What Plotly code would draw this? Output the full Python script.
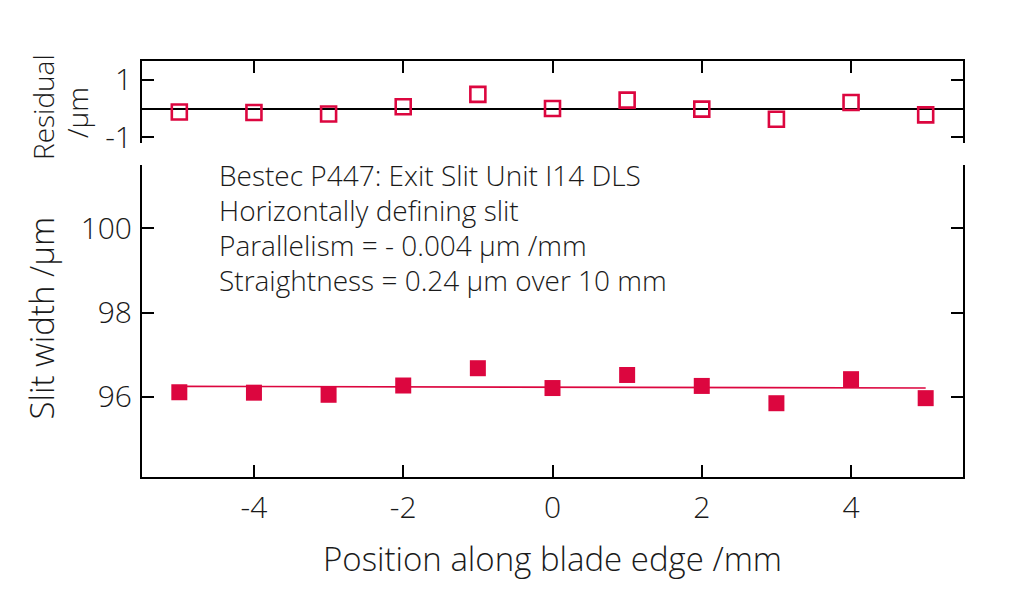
import plotly.graph_objects as go

# ---- data ----
POSITION_MM = [-5, -4, -3, -2, -1, 0, 1, 2, 3, 4, 5]
SLIT_WIDTH_UM = [96.11, 96.10, 96.05, 96.27, 96.68, 96.21, 96.52, 96.26, 95.85, 96.42, 95.97]
RESIDUAL_UM = [-0.12, -0.14, -0.19, 0.06, 0.49, 0.00, 0.29, -0.02, -0.37, 0.21, -0.22]
FIT_X = [-5, 5]
FIT_Y = [96.25, 96.21]

X_TICKS = [-4, -2, 0, 2, 4]
X_TICK_LABELS = ["-4", "-2", "0", "2", "4"]
MAIN_Y_TICKS = [96, 98, 100]
MAIN_Y_TICK_LABELS = ["96", "98", "100"]
RES_Y_TICKS = [-1, 1]
RES_Y_TICK_LABELS = ["-1", "1"]

INFO_LINES = [
    "Bestec P447: Exit Slit Unit I14 DLS",
    "Horizontally defining slit",
    "Parallelism = - 0.004 µm /mm",
    "Straightness = 0.24 µm over 10 mm",
]

# ---- styling ----
RED = "#DC063F"
INK = "#1a1a1a"
FONT = "Open Sans"
W = 300

fig = go.Figure()

fig.add_trace(go.Scatter(
    x=FIT_X, y=FIT_Y, mode="lines",
    line=dict(color=RED, width=1.6),
    xaxis="x", yaxis="y", showlegend=False, hoverinfo="skip",
))
fig.add_trace(go.Scatter(
    x=POSITION_MM, y=SLIT_WIDTH_UM, mode="markers",
    marker=dict(symbol="square", size=16, color=RED, line=dict(width=0)),
    xaxis="x", yaxis="y", showlegend=False,
))
fig.add_trace(go.Scatter(
    x=POSITION_MM, y=RESIDUAL_UM, mode="markers",
    marker=dict(symbol="square-open", size=15, color=RED, line=dict(width=2.6, color=RED)),
    xaxis="x2", yaxis="y2", showlegend=False,
))

axis_common = dict(
    showline=True, linecolor="black", linewidth=2,
    ticks="inside", ticklen=12, tickwidth=2, tickcolor="black",
    showgrid=False, zeroline=False,
    tickfont=dict(family=FONT, size=30, color=INK, weight=W),
)

# page body has an 8px margin, so the figure is 8px smaller than the window
fig.update_layout(
    width=1016, height=581,
    margin=dict(l=134, r=61, t=53, b=112),
    paper_bgcolor="white", plot_bgcolor="white",
    font=dict(family=FONT, color=INK, weight=W),
    xaxis=dict(
        axis_common, domain=[0, 1], range=[-5.5, 5.5], anchor="y",
        tickvals=X_TICKS, ticktext=X_TICK_LABELS, ticklabelstandoff=3,
    ),
    xaxis2=dict(
        axis_common, domain=[0, 1], range=[-5.5, 5.5], anchor="y2", matches="x",
        side="top", tickvals=X_TICKS, showticklabels=False,
    ),
    yaxis=dict(
        axis_common, domain=[0, 0.75], range=[94.1, 101.5], anchor="x",
        mirror="ticks", tickvals=MAIN_Y_TICKS, ticktext=MAIN_Y_TICK_LABELS,
        ticklabelstandoff=2,
    ),
    yaxis2=dict(
        axis_common, domain=[0.802, 1], range=[-1.21, 1.65], anchor="x2",
        mirror="ticks", tickvals=RES_Y_TICKS, ticktext=RES_Y_TICK_LABELS,
        ticklabelstandoff=2,
        zeroline=True, zerolinecolor="black", zerolinewidth=1.6,
    ),
)

annotations = [
    dict(text="Slit width /µm", x=-0.1218, y=0.381, xref="paper", yref="paper",
         textangle=-90, xanchor="center", yanchor="middle", showarrow=False,
         font=dict(family=FONT, size=33, color=INK, weight=W)),
    dict(text="Residual", x=(43 - 142) / 821, y=(477 - 107) / 416, xref="paper", yref="paper",
         textangle=-90, xanchor="center", yanchor="middle", showarrow=False,
         font=dict(family=FONT, size=28, color=INK, weight=W)),
    dict(text="/µm", x=(77 - 142) / 821, y=(477 - 113) / 416, xref="paper", yref="paper",
         textangle=-90, xanchor="center", yanchor="middle", showarrow=False,
         font=dict(family=FONT, size=28, color=INK, weight=W)),
    dict(text="Position along blade edge /mm", x=0.5006, y=-0.195, xref="paper", yref="paper",
         xanchor="center", yanchor="middle", showarrow=False,
         font=dict(family=FONT, size=33, color=INK, weight=W)),
]
info_centers_px = [175, 209.5, 244.5, 279.5]
for line, cy in zip(INFO_LINES, info_centers_px):
    annotations.append(dict(
        text=line, x=(217 - 142) / 821, y=(477 - cy) / 416, xref="paper", yref="paper",
        xanchor="left", yanchor="middle", showarrow=False, align="left",
        font=dict(family=FONT, size=28, color=INK, weight=W),
    ))
fig.update_layout(annotations=annotations)

fig.write_html("out.html")
